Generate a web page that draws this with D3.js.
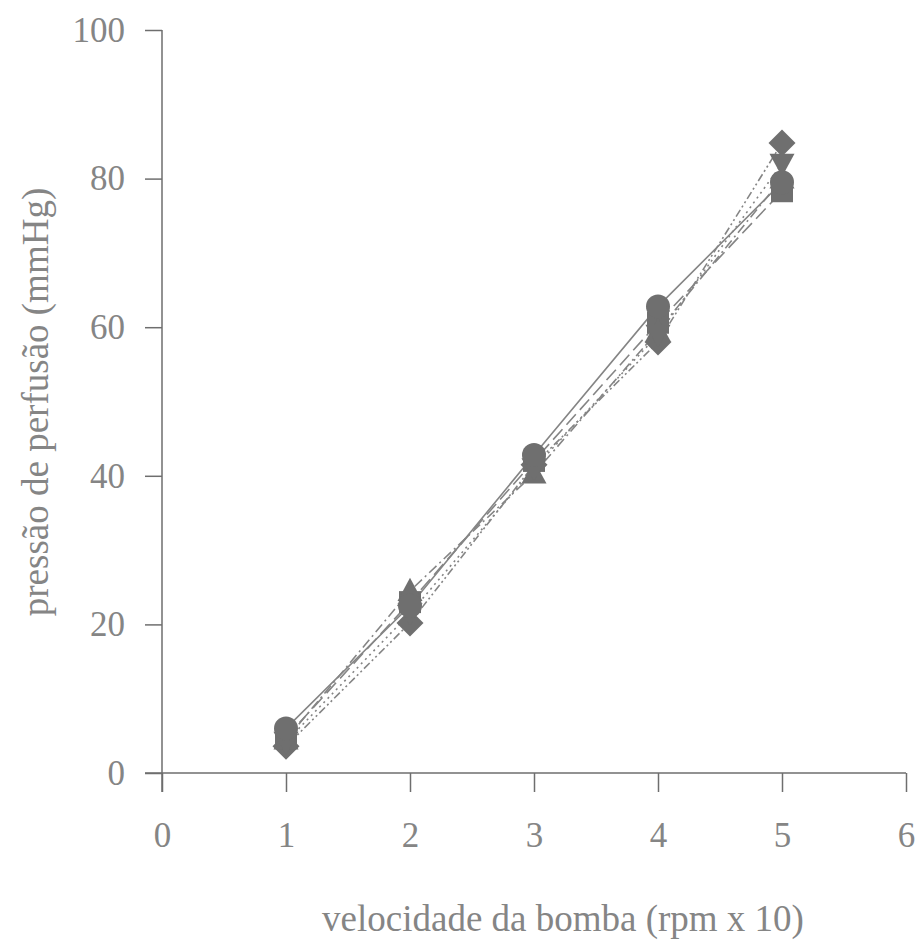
<!DOCTYPE html>
<html>
<head>
<meta charset="utf-8">
<script src="https://cdn.jsdelivr.net/npm/d3@7"></script>
<style>
  html, body { margin: 0; padding: 0; background: #fff; }
  svg { display: block; }
</style>
</head>
<body>
<svg id="chart" width="921" height="947"></svg>
<script>
// Pump speed (rpm x 10) and perfusion pressure (mmHg) for each run
const velocidade = [1, 2, 3, 4, 5];
const serieLosango = [3.6, 20.2, 41.5, 58.0, 84.8];
const serieQuadrado = [4.8, 23.0, 42.0, 60.6, 78.3];
const serieTriangulo = [4.5, 24.5, 40.3, 59.5, 80.0];
const serieTrianguloInv = [4.2, 21.5, 41.0, 59.0, 82.0];
const serieCirculo = [6.0, 22.5, 42.8, 62.8, 79.5];
const xTicks = [0, 1, 2, 3, 4, 5, 6];
const yTicks = [0, 20, 40, 60, 80, 100];

const series = [
  { values: serieLosango, marker: "diamond", dash: "2,3,8,3,2,3" },
  { values: serieQuadrado, marker: "square", dash: "14,6" },
  { values: serieTriangulo, marker: "triangle", dash: "10,4,2,4" },
  { values: serieTrianguloInv, marker: "triangleDown", dash: "2,4" },
  { values: serieCirculo, marker: "circle", dash: null }
];

const svg = d3.select("#chart");
const x = d3.scaleLinear().domain([0, 6]).range([162, 906]);
const y = d3.scaleLinear().domain([0, 100]).range([773, 30]);

const axisColor = "#6e6e6e";
const textColor = "#858585";
const font = "'Liberation Serif', 'Times New Roman', serif";

// Axes
const gx = svg.append("g").attr("transform", `translate(0,${y(0)})`)
  .call(d3.axisBottom(x).tickValues(xTicks).tickFormat(d3.format("d"))
    .tickSize(19).tickPadding(30).tickSizeOuter(0));
const gy = svg.append("g").attr("transform", `translate(${x(0)},0)`)
  .call(d3.axisLeft(y).tickValues(yTicks).tickFormat(d3.format("d"))
    .tickSize(17).tickPadding(20).tickSizeOuter(0));

[gx, gy].forEach(g => {
  g.select(".domain").attr("stroke", axisColor).attr("stroke-width", 1.5);
  g.selectAll(".tick line").attr("stroke", axisColor).attr("stroke-width", 1.5);
  g.selectAll(".tick text")
    .attr("fill", textColor)
    .style("font-family", font)
    .style("font-size", "35px");
});
// extend the x axis line to meet the 0 tick of the y axis
gx.select(".domain").attr("d", `M${x(0) - 17},0H${x(6)}`);
gy.select(".domain").attr("d", `M0,${y(100)}V${y(0) + 19}`);

// Lines
const line = d3.line().x((d, i) => x(velocidade[i])).y(d => y(d));
svg.append("g").selectAll("path")
  .data(series)
  .join("path")
  .attr("d", d => line(d.values))
  .attr("fill", "none")
  .attr("stroke", "#858585")
  .attr("stroke-width", 1.6)
  .attr("stroke-dasharray", d => d.dash);

// Markers
function markerPath(type, cx, cy) {
  const p = d3.path();
  if (type === "diamond") {
    const r = 13.5;
    p.moveTo(cx, cy - r); p.lineTo(cx + r, cy); p.lineTo(cx, cy + r); p.lineTo(cx - r, cy); p.closePath();
  } else if (type === "square") {
    const h = 11;
    p.rect(cx - h, cy - h, 2 * h, 2 * h);
  } else if (type === "triangle") {
    const h = 12.5;
    p.moveTo(cx, cy - h * 1.05); p.lineTo(cx + h, cy + h * 0.8); p.lineTo(cx - h, cy + h * 0.8); p.closePath();
  } else if (type === "triangleDown") {
    const h = 12.5;
    p.moveTo(cx, cy + h * 1.05); p.lineTo(cx + h, cy - h * 0.8); p.lineTo(cx - h, cy - h * 0.8); p.closePath();
  } else {
    p.arc(cx, cy, 12, 0, 2 * Math.PI);
  }
  return p.toString();
}

series.forEach(s => {
  svg.append("g").selectAll("path")
    .data(s.values)
    .join("path")
    .attr("d", (d, i) => markerPath(s.marker, x(velocidade[i]), y(d)))
    .attr("fill", "#6f6f6f");
});

// Axis titles
svg.append("text")
  .attr("x", 563).attr("y", 931)
  .attr("text-anchor", "middle")
  .attr("fill", textColor)
  .style("font-family", font)
  .style("font-size", "37px")
  .text("velocidade da bomba (rpm x 10)");

svg.append("text")
  .attr("transform", "translate(48,402) rotate(-90)")
  .attr("text-anchor", "middle")
  .attr("fill", textColor)
  .style("font-family", font)
  .style("font-size", "37px")
  .text("pressão de perfusão (mmHg)");
</script>
</body>
</html>
